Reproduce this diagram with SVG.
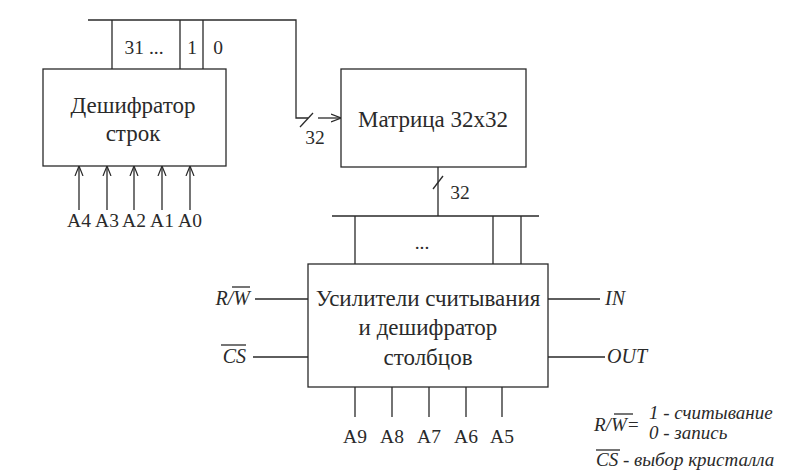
<svg xmlns="http://www.w3.org/2000/svg" width="808" height="475" viewBox="0 0 808 475">
<style>
.ln{stroke:#2a2a2a;stroke-width:1.3;fill:none}
.bx{stroke:#2a2a2a;stroke-width:1.3;fill:#fff}
.t{font-family:"Liberation Serif","Times New Roman",serif;fill:#2a2a2a}
.m{font-size:23px;text-anchor:middle}
.s{font-size:19.5px;text-anchor:middle}
.i{font-style:italic;font-size:20px}
.lg{font-style:italic;font-size:19px}
</style>
<defs>
<marker id="ar" viewBox="0 0 10 10" refX="10" refY="5" markerWidth="10" markerHeight="10" markerUnits="userSpaceOnUse" orient="auto">
<path d="M0,1 L10,5 L0,9" fill="none" stroke="#2a2a2a" stroke-width="1.2"/>
</marker>
</defs>
<rect width="808" height="475" fill="#fff"/>
<g id="connectors">
<path class="ln" d="M88,20 H296 V118 H308"/>
<path class="ln" d="M112,20 V69 M180,20 V69 M203,20 V69"/>
<line class="ln" x1="300" y1="127" x2="313" y2="113"/>
<line class="ln" x1="318" y1="118" x2="341" y2="118" marker-end="url(#ar)"/>
<line class="ln" x1="79" y1="210" x2="79" y2="166" marker-end="url(#ar)"/>
<line class="ln" x1="107" y1="210" x2="107" y2="166" marker-end="url(#ar)"/>
<line class="ln" x1="134" y1="210" x2="134" y2="166" marker-end="url(#ar)"/>
<line class="ln" x1="162" y1="210" x2="162" y2="166" marker-end="url(#ar)"/>
<line class="ln" x1="190" y1="210" x2="190" y2="166" marker-end="url(#ar)"/>
<path class="ln" d="M438,167 V216 M332,216 H539 M355,216 V264 M493,216 V264 M521,216 V264"/>
<line class="ln" x1="433" y1="189" x2="443" y2="176"/>
<path class="ln" d="M255,299 H308 M253,357 H308 M548,299 H600 M548,357 H605"/>
<path class="ln" d="M355,387 V417 M392,387 V417 M429,387 V417 M466,387 V417 M502,387 V417"/>
</g>
<g id="decoder-rows">
<rect class="bx" x="43" y="69" width="183" height="97"/>
<text class="t m" x="133" y="113">Дешифратор</text>
<text class="t m" x="133" y="141">строк</text>
</g>
<g id="row-labels">
<text class="t s" x="144" y="54">31 ...</text>
<text class="t s" x="192" y="54">1</text>
<text class="t s" x="218" y="54">0</text>
<text class="t s" x="79" y="227">A4</text>
<text class="t s" x="107" y="227">A3</text>
<text class="t s" x="134" y="227">A2</text>
<text class="t s" x="162" y="227">A1</text>
<text class="t s" x="190" y="227">A0</text>
<text class="t s" x="315" y="144" font-size="18">32</text>
</g>
<g id="matrix">
<rect class="bx" x="341" y="69" width="185" height="98"/>
<text class="t m" x="433" y="127">Матрица 32x32</text>
<text class="t s" x="460" y="199" font-size="18">32</text>
</g>
<g id="sense-amps">
<rect class="bx" x="308" y="264" width="240" height="123"/>
<text class="t m" x="428" y="306">Усилители считывания</text>
<text class="t m" x="428" y="335">и дешифратор</text>
<text class="t m" x="428" y="365">столбцов</text>
<text class="t s" x="422" y="249">...</text>
</g>
<g id="signals">
<text class="t i" x="250" y="305" text-anchor="end">R/W</text>
<line class="ln" x1="232" y1="287" x2="250" y2="287" stroke-width="1"/>
<text class="t i" x="246" y="363" text-anchor="end">CS</text>
<line class="ln" x1="221" y1="345" x2="246" y2="345" stroke-width="1"/>
<text class="t i" x="605" y="305">IN</text>
<text class="t i" x="607" y="363">OUT</text>
<text class="t s" x="355" y="443">A9</text>
<text class="t s" x="392" y="443">A8</text>
<text class="t s" x="429" y="443">A7</text>
<text class="t s" x="466" y="443">A6</text>
<text class="t s" x="502" y="443">A5</text>
</g>
<g id="legend">
<text class="t lg" x="594" y="431" font-size="21">R/W=</text>
<line class="ln" x1="614" y1="414" x2="633" y2="414" stroke-width="1"/>
<text class="t lg" x="649" y="419">1 - считывание</text>
<text class="t lg" x="649" y="439">0 - запись</text>
<text class="t lg" x="596" y="466">CS - выбор кристалла</text>
<line class="ln" x1="596" y1="450" x2="620" y2="450" stroke-width="1"/>
</g>
</svg>
